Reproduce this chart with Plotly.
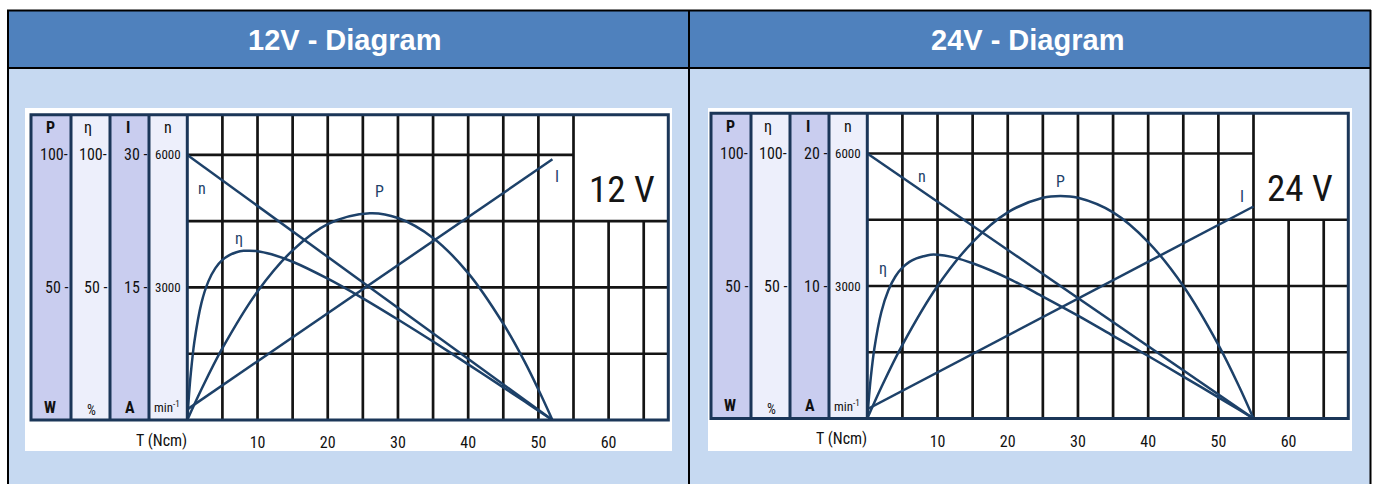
import plotly.graph_objects as go

# ---------------- data ----------------
# 12 V motor
T12_line = [0, 52]
n12 = [6000, 0]            # speed, min^-1
I12 = [1.2, 29.5]          # current, A
T12_P = [0, 2, 5, 10, 15, 20, 26, 30, 35, 40, 45, 48, 50, 52]
P12 = [0, 11.5, 27.1, 48.5, 64.0, 73.9, 78.0, 76.2, 68.7, 55.4, 36.3, 22.2, 11.5, 0]
T12_eta = [0, 0.25, 0.5, 1, 2, 3, 4, 5, 6, 7, 8, 10, 12, 15, 20, 25, 30, 35, 40, 45, 48, 50, 52]
eta12 = [0, 9.8, 17.6, 29.4, 44.0, 52.3, 57.3, 60.4, 62.2, 63.3, 63.8, 63.7, 62.5, 59.7,
         53.3, 45.9, 37.9, 29.6, 21.0, 12.3, 7.1, 3.5, 0]

# 24 V motor
T24_line = [0, 55]
n24 = [6000, 0]
I24 = [0.7, 16.0]
T24_P = [0, 2, 5, 10, 15, 20, 25, 27.5, 30, 35, 40, 45, 50, 53, 55]
P24 = [0, 11.8, 27.8, 50.0, 66.6, 77.8, 83.3, 84.0, 83.3, 77.8, 66.6, 50.0, 27.8, 11.8, 0]
T24_eta = [0, 0.25, 0.5, 1, 2, 3, 4, 5, 6, 7, 8, 9, 10, 12, 15, 20, 25, 30, 35, 40, 45, 50, 53, 55]
eta24 = [0, 8.5, 15.5, 26.3, 40.2, 48.4, 53.6, 56.9, 59.1, 60.4, 61.2, 61.8, 61.8, 61.0, 58.6,
         53.0, 46.0, 38.8, 31.2, 23.6, 15.8, 8.0, 3.2, 0]

x_ticks = [10, 20, 30, 40, 50, 60]
x_tick_text = ["10", "20", "30", "40", "50", "60"]
titles = ["12V - Diagram", "24V - Diagram"]
volt_labels = ["12 V", "24 V"]
I_scale_labels = [("30", "15"), ("20", "10")]

# ---------------- layout helpers ----------------
W, H = 1378, 484
def PX(x):
    return x / W
def PY(y):
    return 1 - y / H

NAVY = "#1B3658"
CURVE = "#1D4169"
GRID = "#141414"
NARROW = "Liberation Sans Narrow, Roboto Condensed, DejaVu Sans Condensed, Arial Narrow, sans-serif"
TXT = "#111111"
TOPF = 1.1517          # top of plot relative to the 6000 / 100 % level
XMAX = 68.5

charts = [
    dict(off=0, left=187.3, right=668.3, bottom=420.0, top=114.7,
         xa="x", ya=["y", "y2", "y3", "y4"],
         T_line=T12_line, n=n12, I=I12, TP=T12_P, P=P12, Te=T12_eta, e=eta12, Imax=30,
         lab=dict(n=(2.1, 5246), P=(27.3, 5169), I=(52.7, 5509), eta=(7.3, 4114), V=(61.9, 5207))),
    dict(off=680, left=867.3, right=1348.3, bottom=418.5, top=113.3,
         xa="x2", ya=["y5", "y6", "y7", "y8"],
         T_line=T24_line, n=n24, I=I24, TP=T24_P, P=P24, Te=T24_eta, e=eta24, Imax=20,
         lab=dict(n=(7.75, 5470), P=(27.45, 5357), I=(53.3, 5017), eta=(2.28, 3396), V=(61.6, 5200))),
]

fig = go.Figure()
shapes = []
annotations = []

def ann(**kw):
    kw.setdefault("showarrow", False)
    kw.setdefault("xanchor", "center")
    kw.setdefault("yanchor", "middle")
    annotations.append(kw)

# table background
shapes.append(dict(type="rect", xref="paper", yref="paper", x0=PX(8), x1=PX(1370), y0=PY(484), y1=PY(68),
                   fillcolor="#C6D9F1", line=dict(width=0), layer="below"))
shapes.append(dict(type="rect", xref="paper", yref="paper", x0=PX(8), x1=PX(1370), y0=PY(68), y1=PY(10),
                   fillcolor="#4F81BD", line=dict(width=0), layer="below"))
for (x0, x1) in [(25, 672), (708, 1352)]:
    shapes.append(dict(type="rect", xref="paper", yref="paper", x0=PX(x0), x1=PX(x1), y0=PY(451), y1=PY(108),
                       fillcolor="white", line=dict(width=0), layer="below"))
# table lines
for (x0, y0, x1, y1) in [(7, 10.5, 1371, 10.5), (8, 10, 8, 484), (1370.5, 10, 1370.5, 484),
                         (689, 10, 689, 484), (8, 68, 1370, 68)]:
    shapes.append(dict(type="line", xref="paper", yref="paper", x0=PX(x0), x1=PX(x1), y0=PY(y0), y1=PY(y1),
                       line=dict(color="black", width=2), layer="above"))

for ci, c in enumerate(charts):
    off, bot, top = c["off"], c["bottom"], c["top"]
    xa = c["xa"]
    ya = c["ya"]
    # scale columns
    cols = [(31, 71, "#C9CDEF"), (71, 110, "#EDEFFB"), (110, 149, "#C9CDEF"), (149, 187.3, "#EDEFFB")]
    for (a, b, col) in cols:
        shapes.append(dict(type="rect", xref="paper", yref="paper", x0=PX(a + off), x1=PX(b + off),
                           y0=PY(bot), y1=PY(top), fillcolor=col, line=dict(width=0), layer="below"))
    for a in [71, 110, 149, 187.3]:
        shapes.append(dict(type="line", xref="paper", yref="paper", x0=PX(a + off), x1=PX(a + off),
                           y0=PY(bot), y1=PY(top), line=dict(color=NAVY, width=3), layer="above"))
    shapes.append(dict(type="rect", xref="paper", yref="paper", x0=PX(31 + off), x1=PX(c["right"]),
                       y0=PY(bot), y1=PY(top), line=dict(color=NAVY, width=3), layer="above"))
    # grid (data coordinates)
    yref = ya[0]
    for t in range(5, 60, 5):
        shapes.append(dict(type="line", xref=xa, yref=yref, x0=t, x1=t, y0=0, y1=6000 * TOPF,
                           line=dict(color=GRID, width=2.7), layer="below"))
    for t in [60, 65]:
        shapes.append(dict(type="line", xref=xa, yref=yref, x0=t, x1=t, y0=0, y1=4500,
                           line=dict(color=GRID, width=2.7), layer="below"))
    for v in [1500, 3000, 4500]:
        shapes.append(dict(type="line", xref=xa, yref=yref, x0=0, x1=XMAX, y0=v, y1=v,
                           line=dict(color=GRID, width=2.7), layer="below"))
    shapes.append(dict(type="line", xref=xa, yref=yref, x0=0, x1=55, y0=6000, y1=6000,
                       line=dict(color=GRID, width=2.7), layer="below"))

    # traces
    lw = 2.5
    fig.add_trace(go.Scatter(x=c["T_line"], y=c["n"], mode="lines", line=dict(color=CURVE, width=lw),
                             xaxis=xa, yaxis=ya[0], showlegend=False, hoverinfo="skip"))
    fig.add_trace(go.Scatter(x=c["TP"], y=c["P"], mode="lines", line=dict(color=CURVE, width=lw, shape="spline"),
                             xaxis=xa, yaxis=ya[1], showlegend=False, hoverinfo="skip"))
    fig.add_trace(go.Scatter(x=c["Te"], y=c["e"], mode="lines", line=dict(color=CURVE, width=lw, shape="spline", smoothing=0.8),
                             xaxis=xa, yaxis=ya[2], showlegend=False, hoverinfo="skip"))
    fig.add_trace(go.Scatter(x=c["T_line"], y=c["I"], mode="lines", line=dict(color=CURVE, width=lw),
                             xaxis=xa, yaxis=ya[3], showlegend=False, hoverinfo="skip"))

    # curve labels
    lab = c["lab"]
    for key, txt in [("n", "n"), ("P", "P"), ("I", "I"), ("eta", "η")]:
        ann(x=lab[key][0], y=lab[key][1], xref=xa, yref=yref, text=txt,
            font=dict(family=NARROW, size=16, color=CURVE))
    ann(x=lab["V"][0], y=lab["V"][1], xref=xa, yref=yref, text=volt_labels[ci],
        font=dict(family=NARROW, size=37, color="#151515"))

    # header title
    ann(x=PX(344 + 683 * ci), y=PY(40), xref="paper", yref="paper",
        text="<b>" + titles[ci] + "</b>",
        font=dict(family="Liberation Sans, Arial, sans-serif", size=29, color="white"))

    # scale column texts
    lf = dict(family=NARROW, size=16, color=TXT)
    for (xc, txt) in [(50, "<b>P</b>"), (88.3, "η"), (128.3, "<b>I</b>"), (168.3, "n")]:
        ann(x=PX(xc + off), y=PY(top + 13), xref="paper", yref="paper", text=txt, font=lf)
    i_hi, i_mid = I_scale_labels[ci]
    for val, txts in [(6000, ["100-", "100-", i_hi + " -"]), (3000, ["50 -", "50 -", i_mid + " -"])]:
        for (xr, txt) in zip([70, 109, 149], txts):
            ann(x=PX(xr + off), y=val, xref="paper", yref=yref, text=txt, xanchor="right", font=lf)
        ann(x=PX(168.3 + off), y=val, xref="paper", yref=yref, text=str(val),
            font=dict(family=NARROW, size=13, color=TXT))
    for (xc, dy, txt, sz) in [(50, 0, "<b>W</b>", 16), (91.7, 3, "%", 14), (130, 0, "<b>A</b>", 16),
                              (166.7, 0, "min<sup>-1</sup>", 13)]:
        ann(x=PX(xc + off), y=PY(bot - 13 + dy), xref="paper", yref="paper", text=txt,
            font=dict(family=NARROW, size=sz, color=TXT))
    ann(x=PX(161 + off), y=PY(bot + 20), xref="paper", yref="paper", text="T (Ncm)",
        font=dict(family=NARROW, size=16, color=TXT))

def xaxis_cfg(c):
    return dict(domain=[PX(c["left"]), PX(c["right"])], range=[0, XMAX], showgrid=False, zeroline=False,
                showline=False, tickmode="array", tickvals=x_ticks, ticktext=x_tick_text, ticks="outside",
                ticklen=8, tickcolor="rgba(0,0,0,0)", tickfont=dict(family=NARROW, size=16, color=TXT),
                fixedrange=True)

def yaxis_cfg(c, rng, anchor, overlay=None):
    d = dict(range=[0, rng], visible=False, showgrid=False, zeroline=False, anchor=anchor, fixedrange=True)
    if overlay:
        d["overlaying"] = overlay
    else:
        d["domain"] = [PY(c["bottom"]), PY(c["top"])]
    return d

c1, c2 = charts
fig.update_layout(
    width=W, height=H, margin=dict(l=0, r=0, t=0, b=0),
    paper_bgcolor="white", plot_bgcolor="white",
    xaxis=dict(xaxis_cfg(c1), anchor="y"),
    xaxis2=dict(xaxis_cfg(c2), anchor="y5"),
    yaxis=yaxis_cfg(c1, 6000 * TOPF, "x"),
    yaxis2=yaxis_cfg(c1, 100 * TOPF, "x", "y"),
    yaxis3=yaxis_cfg(c1, 100 * TOPF, "x", "y"),
    yaxis4=yaxis_cfg(c1, c1["Imax"] * TOPF, "x", "y"),
    yaxis5=yaxis_cfg(c2, 6000 * TOPF, "x2"),
    yaxis6=yaxis_cfg(c2, 100 * TOPF, "x2", "y5"),
    yaxis7=yaxis_cfg(c2, 100 * TOPF, "x2", "y5"),
    yaxis8=yaxis_cfg(c2, c2["Imax"] * TOPF, "x2", "y5"),
    shapes=shapes, annotations=annotations,
)

fig.write_html("out.html", config={"displayModeBar": False},
               post_script="document.body.style.margin='0';document.body.style.overflow='hidden';")
